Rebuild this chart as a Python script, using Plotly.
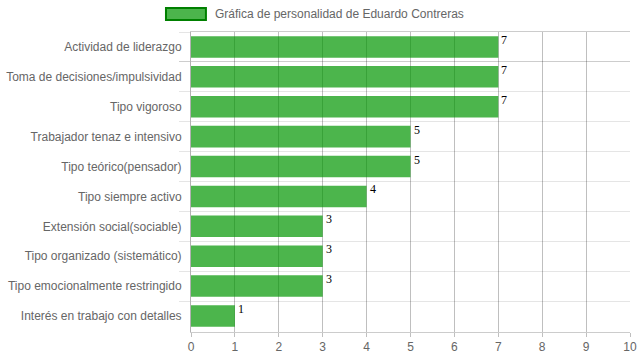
import plotly.graph_objects as go

categories = [
    "Actividad de liderazgo",
    "Toma de decisiones/impulsividad",
    "Tipo vigoroso",
    "Trabajador tenaz e intensivo",
    "Tipo teórico(pensador)",
    "Tipo siempre activo",
    "Extensión social(sociable)",
    "Tipo organizado (sistemático)",
    "Tipo emocionalmente restringido",
    "Interés en trabajo con detalles",
]
values = [7, 7, 7, 5, 5, 4, 3, 3, 3, 1]
series_name = "Gráfica de personalidad de Eduardo Contreras"
x_ticks = list(range(0, 11))

fill = "rgba(0,150,0,0.7)"
border = "rgba(0,128,0,1)"

fig = go.Figure()
fig.add_trace(go.Bar(
    x=values, y=categories, orientation="h",
    marker=dict(color=fill, line=dict(width=0)),
    width=0.72, name=series_name, showlegend=False,
    hoverinfo="x+y",
))

for v, c in zip(values, categories):
    fig.add_annotation(
        x=v, y=c, text=str(v), showarrow=False,
        xanchor="left", yanchor="middle", xshift=1, yshift=7,
        font=dict(family="Liberation Serif", size=12, color="#000"),
    )

# legend (Chart.js style box + label)
fig.add_shape(type="rect", xref="paper", yref="paper",
              x0=-0.057, x1=0.034, y0=1.04, y1=1.08,
              fillcolor=fill, line=dict(color=border, width=2))
fig.add_annotation(xref="paper", yref="paper", x=0.049, y=1.06,
                   text=series_name, showarrow=False,
                   xanchor="left", yanchor="middle",
                   font=dict(family="Liberation Sans", size=12, color="#666"))

fig.update_layout(
    width=639, height=360,
    margin=dict(l=191, r=9, t=32, b=28),
    paper_bgcolor="white", plot_bgcolor="white",
    font=dict(family="Liberation Sans", size=12, color="#666"),
)
fig.update_xaxes(
    range=[0, 10], tickvals=x_ticks, ticktext=[str(t) for t in x_ticks],
    showgrid=True, gridcolor="rgba(0,0,0,0.25)", gridwidth=1,
    zeroline=False, showline=True, mirror=True,
    linecolor="rgba(0,0,0,0.2)",
    ticks="outside", ticklen=4, tickcolor="rgba(0,0,0,0.25)",
    tickfont=dict(size=12, color="#666"), fixedrange=True,
    automargin=False,
)
fig.update_yaxes(
    autorange="reversed", type="category",
    tickson="boundaries", showgrid=True, gridcolor="rgba(0,0,0,0.1)",
    ticks="outside", ticklen=11, tickcolor="rgba(0,0,0,0.1)",
    ticklabelstandoff=6,
    showline=True, linecolor="rgba(0,0,0,0.3)",
    tickfont=dict(size=12, color="#666"), fixedrange=True,
    automargin=False,
)

fig.write_html(
    "out.html",
    config={"displayModeBar": False},
    post_script="document.body.style.margin='0';document.body.style.overflow='hidden';",
)
